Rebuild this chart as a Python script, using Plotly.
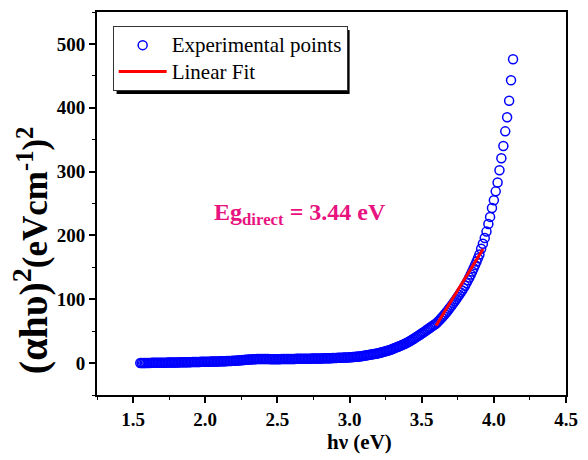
import plotly.graph_objects as go

# Photon energy (eV) of the experimental points
hv = [
    1.55, 1.56, 1.57, 1.58, 1.59,
    1.60, 1.61, 1.62, 1.63, 1.64, 1.65, 1.66, 1.67, 1.68, 1.69,
    1.70, 1.71, 1.72, 1.73, 1.74, 1.75, 1.76, 1.77, 1.78, 1.79,
    1.80, 1.81, 1.82, 1.83, 1.84, 1.85, 1.86, 1.87, 1.88, 1.89,
    1.90, 1.91, 1.92, 1.93, 1.94, 1.95, 1.96, 1.97, 1.98, 1.99,
    2.00, 2.01, 2.02, 2.03, 2.04, 2.05, 2.06, 2.07, 2.08, 2.09,
    2.10, 2.11, 2.12, 2.13, 2.14, 2.15, 2.16, 2.17, 2.18, 2.19,
    2.20, 2.21, 2.22, 2.23, 2.24, 2.25, 2.26, 2.27, 2.28, 2.29,
    2.30, 2.31, 2.32, 2.33, 2.34, 2.35, 2.36, 2.37, 2.38, 2.39,
    2.40, 2.41, 2.42, 2.43, 2.44, 2.45, 2.46, 2.47, 2.48, 2.49,
    2.50, 2.51, 2.52, 2.53, 2.54, 2.55, 2.56, 2.57, 2.58, 2.59,
    2.60, 2.61, 2.62, 2.63, 2.64, 2.65, 2.66, 2.67, 2.68, 2.69,
    2.70, 2.71, 2.72, 2.73, 2.74, 2.75, 2.76, 2.77, 2.78, 2.79,
    2.80, 2.81, 2.82, 2.83, 2.84, 2.85, 2.86, 2.87, 2.88, 2.89,
    2.90, 2.91, 2.92, 2.93, 2.94, 2.95, 2.96, 2.97, 2.98, 2.99,
    3.00, 3.01, 3.02, 3.03, 3.04, 3.05, 3.06, 3.07, 3.08, 3.09,
    3.10, 3.11, 3.12, 3.13, 3.14, 3.15, 3.16, 3.17, 3.18, 3.19,
    3.20, 3.21, 3.22, 3.23, 3.24, 3.25, 3.26, 3.27, 3.28, 3.29,
    3.30, 3.31, 3.32, 3.33, 3.34, 3.35, 3.36, 3.37, 3.38, 3.39,
    3.40, 3.41, 3.42, 3.43, 3.44, 3.45, 3.46, 3.47, 3.48, 3.49,
    3.50, 3.51, 3.52, 3.53, 3.54, 3.55, 3.56, 3.57, 3.58, 3.59,
    3.60, 3.61, 3.62, 3.63, 3.64, 3.65, 3.66, 3.67, 3.68, 3.69,
    3.70, 3.71, 3.72, 3.73, 3.74, 3.75, 3.76, 3.77, 3.78, 3.79,
    3.80, 3.81, 3.82, 3.83, 3.84, 3.85, 3.86, 3.87, 3.88, 3.89,
    3.900, 3.912, 3.924, 3.937, 3.949, 3.962, 3.974, 3.987, 4.000, 4.013,
    4.026, 4.039, 4.052, 4.066, 4.079, 4.092, 4.106, 4.119, 4.133,
]

# (alpha h nu)^2 values
ahv2 = [
    0.0, 0.1, 0.1, 0.2, 0.2,
    0.3, 0.3, 0.3, 0.4, 0.4, 0.4, 0.5, 0.5, 0.5, 0.6,
    0.6, 0.6, 0.7, 0.7, 0.8, 0.8, 0.8, 0.9, 0.9, 1.0,
    1.0, 1.1, 1.1, 1.2, 1.2, 1.3, 1.3, 1.4, 1.4, 1.5,
    1.5, 1.6, 1.6, 1.7, 1.7, 1.8, 1.8, 1.9, 1.9, 2.0,
    2.0, 2.1, 2.1, 2.2, 2.3, 2.3, 2.4, 2.5, 2.5, 2.6,
    2.7, 2.8, 2.8, 2.9, 3.0, 3.1, 3.2, 3.3, 3.4, 3.5,
    3.6, 3.8, 3.9, 4.1, 4.3, 4.5, 4.7, 4.9, 5.1, 5.3,
    5.5, 5.7, 5.8, 6.0, 6.1, 6.2, 6.3, 6.3, 6.4, 6.4,
    6.4, 6.4, 6.3, 6.3, 6.3, 6.2, 6.2, 6.2, 6.2, 6.2,
    6.2, 6.2, 6.2, 6.3, 6.3, 6.3, 6.3, 6.4, 6.4, 6.4,
    6.5, 6.5, 6.5, 6.6, 6.6, 6.6, 6.7, 6.7, 6.7, 6.8,
    6.8, 6.8, 6.9, 6.9, 7.0, 7.0, 7.1, 7.1, 7.2, 7.2,
    7.3, 7.3, 7.4, 7.5, 7.5, 7.6, 7.7, 7.7, 7.8, 7.9,
    8.0, 8.1, 8.2, 8.3, 8.4, 8.5, 8.6, 8.7, 8.8, 8.9,
    9.0, 9.2, 9.4, 9.6, 9.8, 10.0, 10.2, 10.5, 10.8, 11.1,
    11.5, 11.8, 12.2, 12.6, 13.0, 13.4, 13.8, 14.2, 14.6, 15.0,
    15.5, 16.1, 16.7, 17.3, 17.9, 18.5, 19.2, 19.9, 20.6, 21.4,
    22.5, 23.3, 24.2, 25.1, 26.0, 26.9, 27.9, 28.9, 29.9, 30.9,
    32.0, 33.3, 34.6, 36.0, 37.4, 38.8, 40.3, 41.8, 43.3, 44.8,
    46.3, 47.8, 49.3, 50.9, 52.5, 54.1, 55.8, 57.5, 59.0, 60.5,
    62.0, 64.2, 66.5, 68.9, 71.4, 74.0, 76.6, 79.3, 82.1, 85.0,
    88.0, 91.0, 94.1, 97.3, 100.5, 103.8, 107.1, 110.5, 113.9, 117.4,
    121.0, 125.2, 129.6, 134.1, 138.8, 143.6, 148.6, 153.7, 159.0, 164.4,
    170.0, 179.0, 187.0, 196.0, 206.0, 218.0, 229.0, 243.0, 255.0, 269.0,
    283.0, 302.0, 321.0, 340.0, 363.0, 385.0, 411.0, 443.0, 476.0,
]

# Linear fit segment endpoints (Eg = 3.44 eV intercept)
fit_hv = [3.60, 3.925]
fit_ahv2 = [59.0, 178.6]

x_ticks = [1.5, 2.0, 2.5, 3.0, 3.5, 4.0, 4.5]
y_ticks = [0, 100, 200, 300, 400, 500]

SERIF = "Liberation Serif"


def px(xp):
    return (xp - 97) / 479


def py(yp):
    return (395 - yp) / 385


fig = go.Figure()
fig.add_trace(go.Scatter(
    x=hv, y=ahv2, mode="markers",
    name="<span style='font-size:21px'>Experimental points</span>",
    marker=dict(symbol="circle-open", size=9, color="#0000ff",
                line=dict(width=1.5, color="#0000ff")),
))
fig.add_trace(go.Scatter(
    x=fit_hv, y=fit_ahv2, mode="lines",
    name="<span style='font-size:21px'>Linear Fit</span>",
    line=dict(color="#ff0000", width=3),
))

axis_common = dict(
    showgrid=False, zeroline=False, showline=True, linecolor="black",
    linewidth=1.8, mirror=True, ticks="outside", ticklen=6, tickwidth=1.5,
    tickcolor="black",
    tickfont=dict(family=SERIF, size=19, color="black", weight="bold"),
)

fig.update_xaxes(
    range=[1.25, 4.5], tickmode="array", tickvals=x_ticks,
    ticktext=[f"{v:.1f}" for v in x_ticks],
    minor=dict(dtick=0.25, tick0=0, ticks="outside", ticklen=3,
               tickwidth=1.2, tickcolor="black"),
    **axis_common,
)
fig.update_yaxes(
    range=[-50, 550], tickmode="array", tickvals=y_ticks,
    ticktext=[str(v) for v in y_ticks],
    minor=dict(dtick=50, tick0=0, ticks="outside", ticklen=3,
               tickwidth=1.2, tickcolor="black"),
    **axis_common,
)

fig.update_layout(
    width=588, height=460,
    margin=dict(l=97, r=12, t=10, b=65),
    paper_bgcolor="white", plot_bgcolor="white",
    showlegend=True,
    legend=dict(
        x=px(113), y=py(24), xanchor="left", yanchor="top",
        bgcolor="white", bordercolor="#333333", borderwidth=1,
        font=dict(family=SERIF, size=18, color="black"),
        tracegroupgap=0, itemwidth=48,
    ),
    shapes=[
        dict(type="rect", xref="paper", yref="paper", layer="above",
             x0=px(117), x1=px(355), y0=py(28), y1=py(92.5),
             fillcolor="black", line=dict(width=0)),
    ],
    annotations=[
        dict(text="<b>hν (eV)</b>", xref="paper", yref="paper",
             x=px(365), y=py(442), xanchor="center",
             yanchor="middle", showarrow=False,
             font=dict(family=SERIF, size=21, color="black")),
        dict(text="<b>(αhυ)<sup>2</sup><span style='font-size:35px'>(eVcm<sup>-1</sup>)<sup>2</sup></span></b>",
             xref="paper", yref="paper", textangle=-90,
             x=px(30), y=py(250), xanchor="center",
             yanchor="middle", showarrow=False,
             font=dict(family=SERIF, size=40, color="black")),
        dict(text="<b>Eg<sub>direct</sub> = 3.44 eV</b>", xref="paper",
             yref="paper", x=px(304), y=py(213),
             xanchor="center", yanchor="middle", showarrow=False,
             font=dict(family=SERIF, size=24, color="#e8137f")),
    ],
)

fig.write_html("out.html")
